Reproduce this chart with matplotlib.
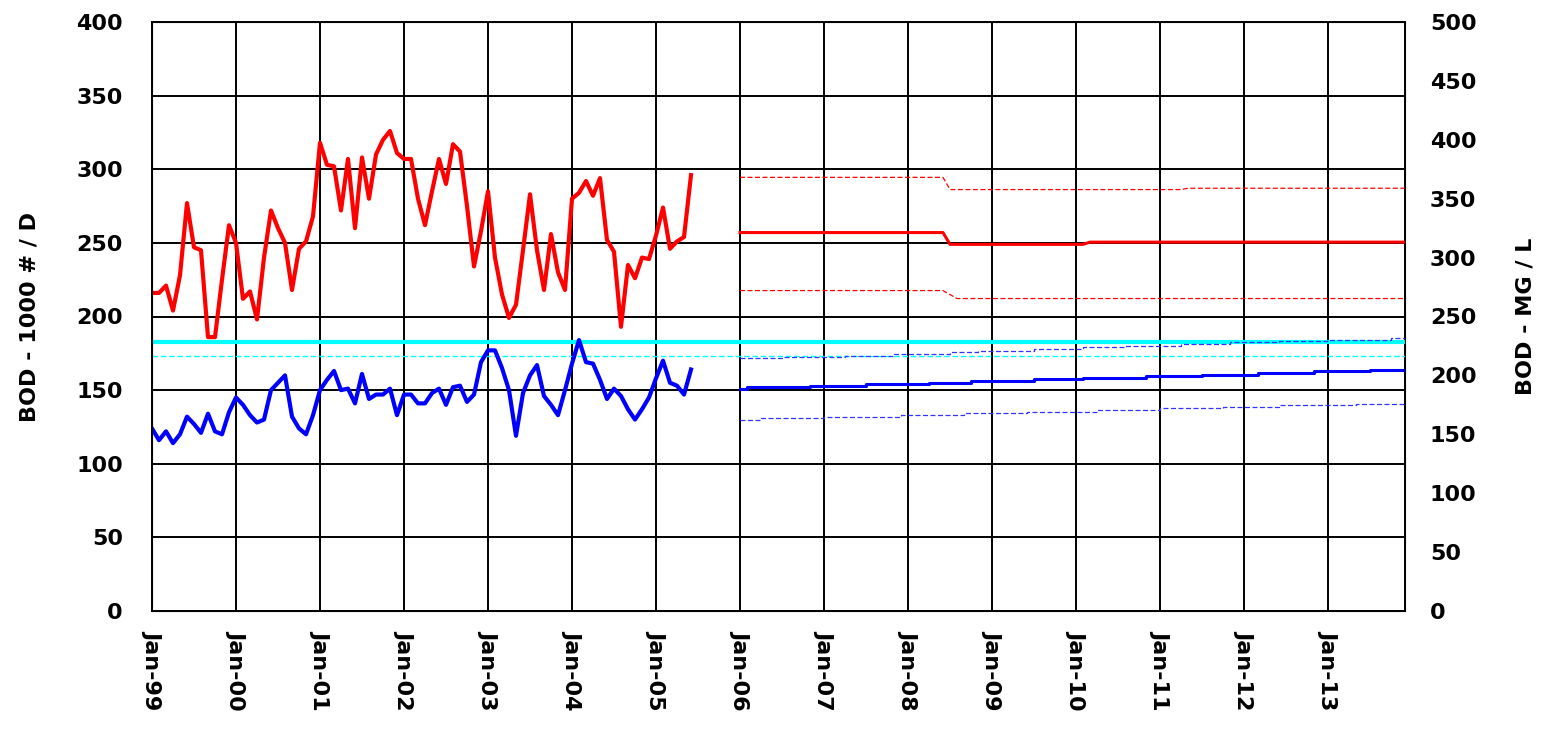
import numpy as np
import matplotlib
matplotlib.use('Agg')
import matplotlib.pyplot as plt

plt.rcParams.update({
    'font.family': 'DejaVu Sans',
    'font.weight': 'bold',
    'font.size': 16,
})

# month index: 0 = Jan-99
YEAR_LABELS = ['Jan-99', 'Jan-00', 'Jan-01', 'Jan-02', 'Jan-03', 'Jan-04', 'Jan-05', 'Jan-06',
               'Jan-07', 'Jan-08', 'Jan-09', 'Jan-10', 'Jan-11', 'Jan-12', 'Jan-13']

# measured monthly values, Jan-99 .. Jun-05
red_hist = [216, 216, 221, 204, 228, 277, 247, 245, 186, 186, 225, 262,
            250, 212, 217, 198, 240, 272, 260, 250, 218, 246, 251, 268,
            318, 303, 302, 272, 307, 260, 308, 280, 310, 320, 326, 311,
            307, 307, 280, 262, 285, 307, 290, 317, 312, 275, 234, 258,
            285, 240, 215, 199, 208, 245, 283, 245, 218, 256, 230, 218,
            280, 284, 292, 282, 294, 252, 244, 193, 235, 226, 240, 239,
            255, 274, 246, 251, 254, 296]
blue_hist = [124, 116, 122, 114, 120, 132, 127, 121, 134, 122, 120, 135,
             145, 140, 133, 128, 130, 150, 155, 160, 132, 124, 120, 133,
             150, 157, 163, 150, 151, 141, 161, 144, 147, 147, 151, 133,
             147, 147, 141, 141, 148, 151, 140, 152, 153, 142, 147, 169,
             177, 177, 165, 150, 119, 148, 160, 167, 146, 140, 133, 150,
             168, 184, 169, 168, 157, 144, 151, 146, 137, 130, 137, 145,
             158, 170, 155, 153, 147, 164]

# projections (breakpoints: month index, value)
red_proj_x = [84, 113, 114, 133, 134, 179]
red_proj_y = [257, 257, 249, 249, 250.5, 250.5]
red_hi_x = [84, 113, 114, 147, 148, 179]
red_hi_y = [294.5, 294.5, 286.2, 286.2, 287.1, 287.1]
red_lo_x = [84, 113, 115, 179]
red_lo_y = [217.6, 217.6, 212.2, 212.2]

blue_proj_x = [84, 85, 94, 102, 111, 117, 126, 133, 142, 150, 158, 166, 174, 179]
blue_proj_y = [151.0, 152.2, 153.1, 154.0, 155.1, 156.2, 157.3, 158.4, 159.6, 160.5,
               161.6, 162.7, 163.9, 163.9]
blue_hi_x = [84, 90, 99, 106, 114, 118, 126, 133, 139, 147, 154, 161, 168, 177, 179]
blue_hi_y = [172.0, 172.6, 173.5, 174.7, 175.8, 176.9, 178.0, 179.2, 180.3, 181.4,
             182.5, 183.6, 184.3, 185.4, 185.4]
blue_lo_x = [84, 87, 96, 107, 116, 125, 135, 144, 153, 161, 172, 179]
blue_lo_y = [129.9, 130.8, 131.9, 133.0, 134.2, 135.3, 136.4, 137.8, 138.7, 139.6,
             140.5, 140.5]

cyan_limit = 183
cyan_dash = 173

fig = plt.figure(figsize=(15.48, 7.34), dpi=100)
ax = fig.add_axes([152 / 1548, 1 - 611 / 734, (1405 - 152) / 1548, (611 - 22) / 734])

ax.plot([0, 179], [cyan_limit, cyan_limit], color='#00FFFF', linewidth=3, zorder=3)
ax.plot([0, 179], [cyan_dash, cyan_dash], color='#00FFFF', linewidth=1.0,
        dashes=(4, 2), zorder=3)

ax.plot(np.arange(len(red_hist)), red_hist, color='#FF0000', linewidth=3, zorder=4)
ax.plot(np.arange(len(blue_hist)), blue_hist, color='#0000FF', linewidth=3, zorder=4)

ax.plot(red_proj_x, red_proj_y, color='#FF0000', linewidth=2.2, zorder=4)
ax.plot(red_hi_x, red_hi_y, color='#FF0000', linewidth=0.9, dashes=(4, 2), zorder=4)
ax.plot(red_lo_x, red_lo_y, color='#FF0000', linewidth=0.9, dashes=(4, 2), zorder=4)

ax.plot(blue_proj_x, blue_proj_y, color='#0000FF', linewidth=2.2,
        drawstyle='steps-post', zorder=4)
ax.plot(blue_hi_x, blue_hi_y, color='#3333FF', linewidth=0.9, dashes=(4, 2),
        drawstyle='steps-post', zorder=4)
ax.plot(blue_lo_x, blue_lo_y, color='#3333FF', linewidth=0.9, dashes=(4, 2),
        drawstyle='steps-post', zorder=4)

ax.set_xlim(0, 179)
ax.set_ylim(0, 400)
ax.set_yticks(np.arange(0, 401, 50))
ax.set_xticks(np.arange(0, 169, 12))
ax.set_xticklabels(YEAR_LABELS, rotation=-90, fontweight='bold')
ax.grid(True, color='black', linewidth=1.4)
ax.set_axisbelow(True)
ax.tick_params(axis='y', length=0, pad=21)
ax.tick_params(axis='x', length=0, pad=14)
for s in ax.spines.values():
    s.set_linewidth(1.4)
ax.set_ylabel('BOD - 1000 # / D', fontsize=16, fontweight='bold', labelpad=26)

ax2 = ax.twinx()
ax2.set_ylim(0, 500)
ax2.set_yticks(np.arange(0, 501, 50))
ax2.tick_params(length=0, pad=18)
ax2.set_ylabel('BOD - MG / L', fontsize=16, fontweight='bold', labelpad=28)

fig.savefig('out.png', dpi=100)
